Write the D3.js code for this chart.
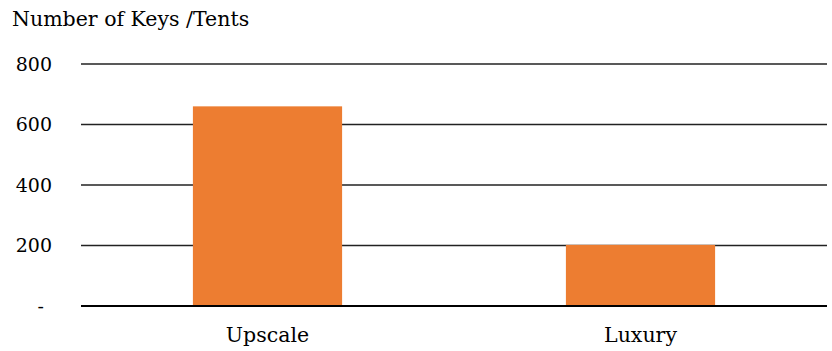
<!DOCTYPE html>
<html>
<head>
<meta charset="utf-8">
<script src="https://cdn.jsdelivr.net/npm/d3@7"></script>
<style>
  body { margin: 0; background: #fff; }
  text { font-family: "DejaVu Serif", serif; fill: #000; }
</style>
</head>
<body>
<div id="chart"></div>
<script>
// data
var categories = ["Upscale", "Luxury"];
var keys = [660, 202];
var tickValues = [0, 200, 400, 600, 800];
var tickLabels = ["-", "200", "400", "600", "800"];
var title = "Number of Keys /Tents";

let width = 832;
let height = 351;

let svg = d3.select("#chart").append("svg")
    .attr("width", width)
    .attr("height", height);

let x = d3.scaleBand()
    .domain(categories)
    .range([81, 827])
    .paddingInner(0.6)
    .paddingOuter(0.3);

let y = d3.scaleLinear()
    .domain([0, 800])
    .range([306, 64]);

// title
svg.append("text")
    .attr("x", 12)
    .attr("y", 26)
    .style("font-size", "20.5px")
    .text(title);

// gridlines
svg.selectAll(".grid")
    .data(tickValues.filter(d => d > 0))
    .join("line")
    .attr("class", "grid")
    .attr("x1", 81)
    .attr("x2", 827)
    .attr("y1", d => y(d))
    .attr("y2", d => y(d))
    .attr("stroke", "#222")
    .attr("stroke-width", 1.3);

// y tick labels
svg.selectAll(".ticklabel")
    .data(tickValues)
    .join("text")
    .attr("class", "ticklabel")
    .attr("x", (d, i) => i == 0 ? 44 : 52)
    .attr("y", d => y(d))
    .attr("dy", "0.35em")
    .attr("text-anchor", "end")
    .style("font-size", "19px")
    .text((d, i) => tickLabels[i]);

// bars
svg.selectAll(".bar")
    .data(keys)
    .join("rect")
    .attr("class", "bar")
    .attr("x", (d, i) => x(categories[i]))
    .attr("width", x.bandwidth())
    .attr("y", d => y(d))
    .attr("height", d => y(0) - y(d))
    .attr("fill", "#ED7D31");

// baseline
svg.append("line")
    .attr("x1", 81)
    .attr("x2", 827)
    .attr("y1", y(0))
    .attr("y2", y(0))
    .attr("stroke", "#000")
    .attr("stroke-width", 2);

// category labels
svg.selectAll(".catlabel")
    .data(categories)
    .join("text")
    .attr("class", "catlabel")
    .attr("x", d => x(d) + x.bandwidth() / 2)
    .attr("y", 342)
    .attr("text-anchor", "middle")
    .style("font-size", "20.5px")
    .text(d => d);
</script>
</body>
</html>
